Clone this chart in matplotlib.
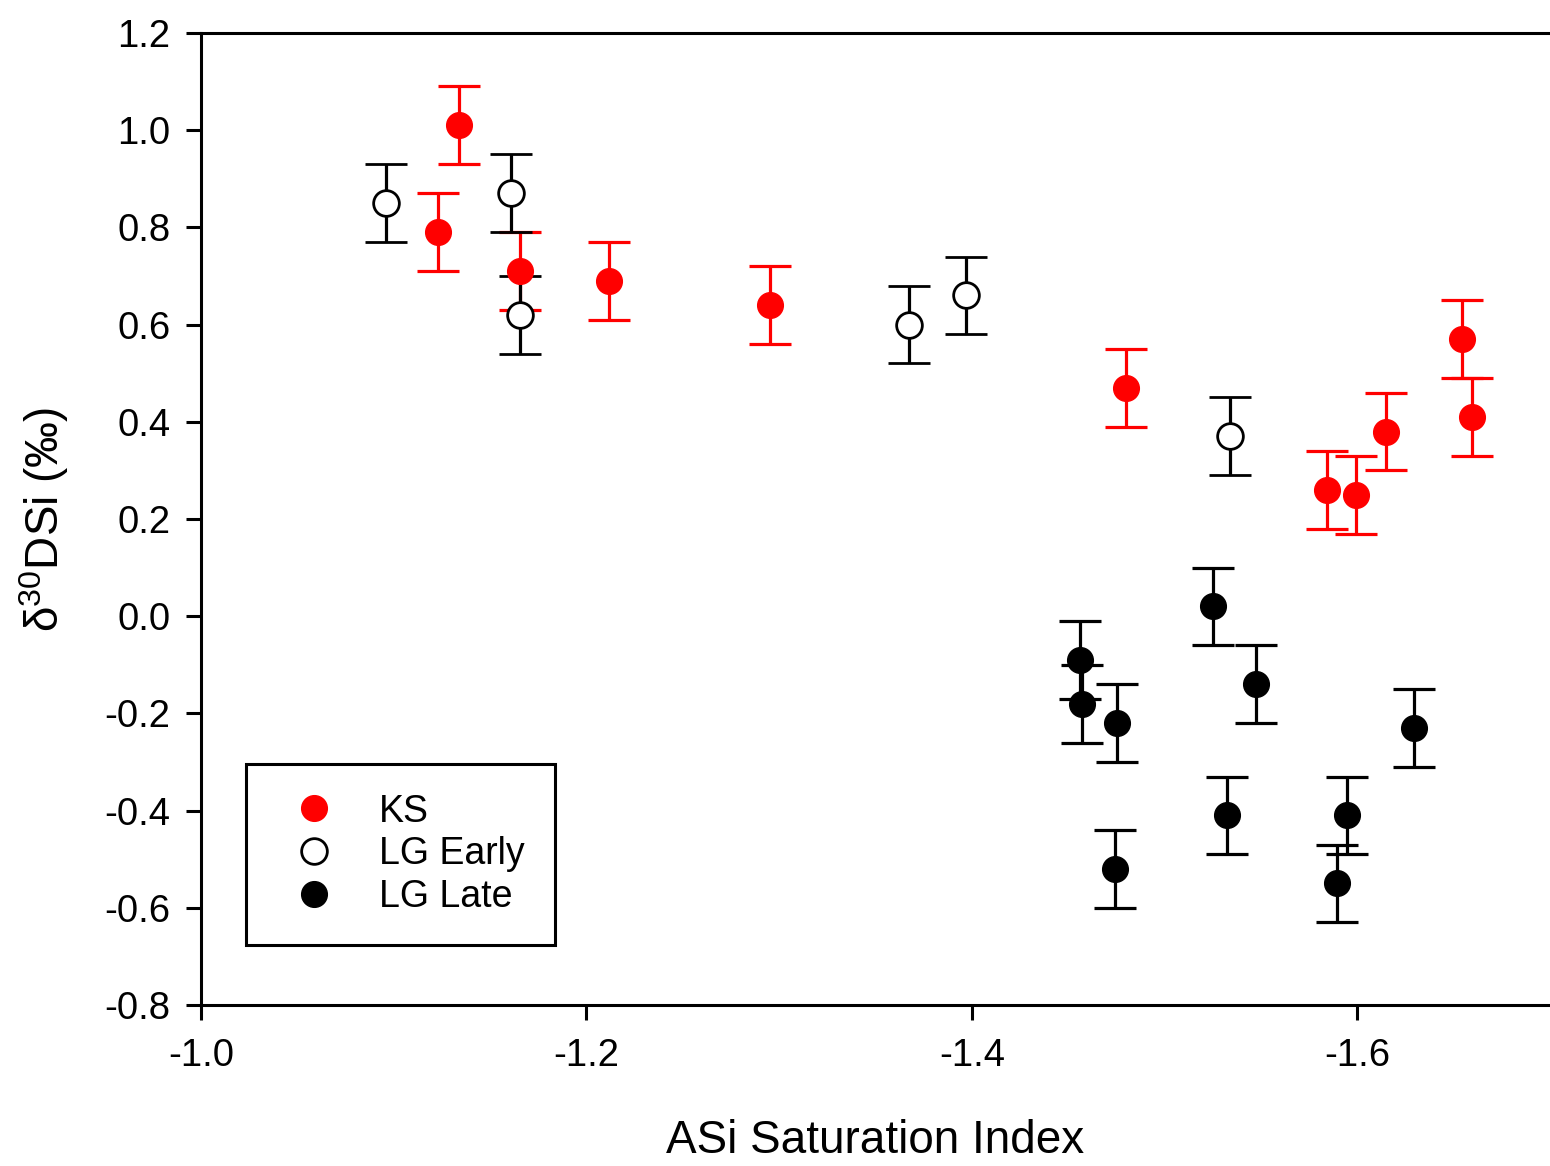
import matplotlib.pyplot as plt

plt.rcParams["font.family"] = ["Liberation Sans", "DejaVu Sans"]
plt.rcParams["mathtext.fontset"] = "custom"
plt.rcParams["mathtext.rm"] = "Liberation Sans"
plt.rcParams["mathtext.it"] = "Liberation Sans"

# KS
ks_x = [-1.134, -1.123, -1.1655, -1.2117, -1.2952, -1.4799, -1.5842, -1.5992, -1.6148, -1.6542, -1.6594]
ks_y = [1.01, 0.79, 0.71, 0.69, 0.64, 0.47, 0.26, 0.25, 0.38, 0.57, 0.41]

# LG Early
early_x = [-1.096, -1.1608, -1.1655, -1.3673, -1.3969, -1.5339]
early_y = [0.85, 0.87, 0.62, 0.60, 0.66, 0.37]

# LG Late
late_x = [-1.456, -1.457, -1.4752, -1.4742, -1.525, -1.5473, -1.5323, -1.5946, -1.5894, -1.6293]
late_y = [-0.09, -0.18, -0.22, -0.52, 0.02, -0.14, -0.41, -0.41, -0.55, -0.23]

err = 0.08

fig = plt.figure(figsize=(15.5, 11.66), dpi=100)
ax = fig.add_axes([0.1297, 0.1381, 0.8703, 0.8336])

common = dict(yerr=err, fmt="o", markersize=18.5, capsize=15, elinewidth=2.3, capthick=2.3)
ax.errorbar(ks_x, ks_y, color="red", ecolor="red", label="KS", **common)
ax.errorbar(early_x, early_y, color="black", ecolor="black", mfc="white", mec="black",
            mew=2, label="LG Early", **common)
ax.errorbar(late_x, late_y, color="black", ecolor="black", label="LG Late", **common)

ax.set_xlim(-1.0, -1.7)
ax.set_ylim(-0.8, 1.2)
ax.set_xticks([-1.0, -1.2, -1.4, -1.6])
ax.set_xticklabels(["-1.0", "-1.2", "-1.4", "-1.6"])
ax.set_yticks([-0.8, -0.6, -0.4, -0.2, 0.0, 0.2, 0.4, 0.6, 0.8, 1.0, 1.2])
ax.set_yticklabels(["-0.8", "-0.6", "-0.4", "-0.2", "0.0", "0.2", "0.4", "0.6", "0.8", "1.0", "1.2"])
ax.tick_params(direction="out", length=11, width=2.2, labelsize=27.5)
ax.tick_params(axis="x", pad=13)
ax.tick_params(axis="y", pad=11)
for s in ["left", "bottom", "top"]:
    ax.spines[s].set_linewidth(2.2)
ax.spines["right"].set_visible(False)

ax.set_xlabel("ASi Saturation Index", fontsize=33, labelpad=32)
ax.set_ylabel("δ$^{30}$DSi (‰)", fontsize=33, labelpad=24)

handles, labels = ax.get_legend_handles_labels()
handles = [h[0] for h in handles]
leg = ax.legend(handles, labels, loc="lower left", bbox_to_anchor=(0.0334, 0.0617),
                fontsize=27, frameon=True, fancybox=False, handlelength=2.0,
                handletextpad=0.75, labelspacing=0.18, borderpad=0.8, borderaxespad=0)
leg.get_frame().set_edgecolor("black")
leg.get_frame().set_linewidth(2.2)
leg.get_frame().set_alpha(1)

fig.savefig("out.png", dpi=100)
